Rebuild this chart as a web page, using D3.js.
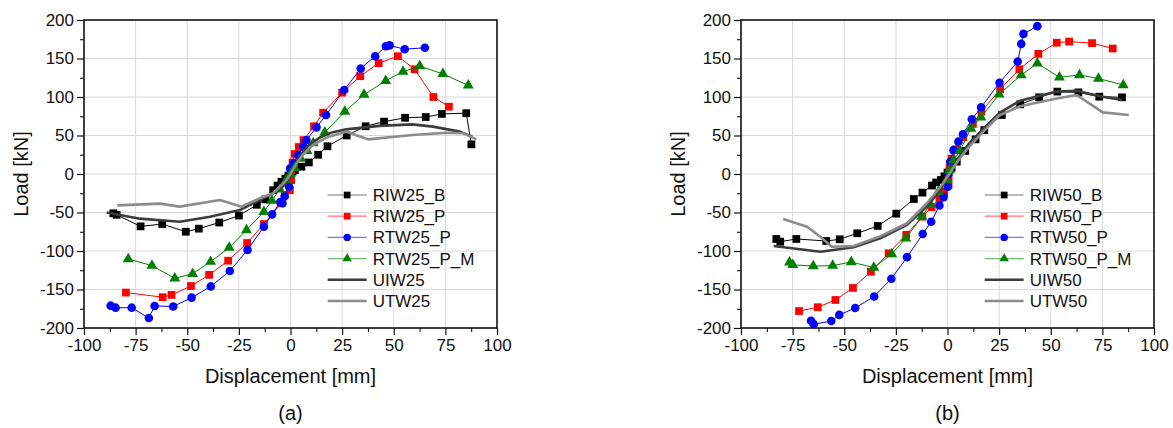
<!DOCTYPE html>
<html>
<head>
<meta charset="utf-8">
<script src="https://cdn.jsdelivr.net/npm/d3@7"></script>
<style>
  body { margin: 0; background: #fff; }
  text { font-family: "Liberation Sans", Arial, sans-serif; fill: #111; }
</style>
</head>
<body>
<div id="my_dataviz"></div>
<script>
// ---- data: [displacement mm, load kN] ----
// chart (a)
var RIW25_B = [[-85.8,-51],[-84.2,-53],[-72.6,-68],[-62.1,-65],[-50.7,-75],[-44.4,-71],[-34.5,-63],[-25,-54],[-16.3,-40],[-12.1,-33],[-8.4,-21],[-6.3,-15],[-4.4,-10],[-2.5,-6],[-1,-2],[1,3],[2.1,5],[5.3,9.5],[8.9,15],[13.4,25],[17.9,36],[27.2,50],[36.4,62],[45.3,68],[55.5,73],[65.5,74],[73.3,78],[85.1,79],[87.6,38.5]];
var RIW25_P = [[-79.7,-154],[-61.9,-160],[-57.6,-157],[-48.2,-145.5],[-39.4,-131],[-30.2,-112.6],[-21,-89.6],[-12.9,-65],[-4.4,-38],[-2.8,-27],[-0.3,-21],[0.3,-8],[0.5,5],[1,15],[2,26],[4,35],[6.3,44],[11.4,62],[15.8,79.6],[25,105.6],[33.7,127],[42.7,144],[52,153],[60.1,136],[69.2,100],[76.7,87.4]];
var RTW25_P = [[-87.1,-171],[-84.7,-173.6],[-76.9,-173.6],[-68.6,-187],[-65.8,-171.4],[-56.8,-172],[-47.9,-160.6],[-38.6,-146],[-29.4,-126],[-20.8,-98.7],[-12.9,-68.4],[-8.9,-52.4],[-5,-36.4],[-3.9,-38],[-2.8,-29],[-0.7,-16.5],[-0.2,7],[1.6,14],[3.7,24.7],[6.1,35.5],[7.7,44],[12.6,60.6],[17.2,76.6],[26,109],[34,137],[41,153],[46.2,166],[48,167],[55.3,162],[65.1,164]];
var RTW25_P_M = [[-78.6,-110.4],[-67.1,-119],[-56,-135.5],[-47.4,-129.5],[-38.7,-113.9],[-29.7,-95.7],[-21.3,-72.7],[-12.9,-49],[-9,-34.6],[-5.2,-20],[-2,-8],[0,0],[2,8],[5,20],[8,30],[11,40],[16.6,54],[26.3,81],[35.6,103],[46.1,121],[54.5,133],[62.6,140],[73.8,130],[86.1,115]];
var UIW25 = [[-89,-50],[-72.9,-58],[-53.6,-62],[-39,-55.4],[-24.5,-46.8],[-14.9,-33.8],[-6.8,-23],[-2,-12],[0,-3],[2,10],[4.5,24],[9,38],[14,47],[20,54],[27,58],[43,62.5],[59,64.5],[69,61.5],[82,55],[88,48.5]];
var UTW25 = [[-83.9,-40.7],[-63.2,-38.5],[-53.6,-42.4],[-34.2,-33.8],[-23.7,-42.4],[-14.9,-31.6],[-8.4,-25],[-2,-8],[0,0],[3,14],[6,25],[11,38],[18,48],[27,55],[37.5,45],[59,50.6],[75.5,53.6],[83.5,53],[90,45]];

// chart (b)
var RIW50_B = [[-82.9,-84.4],[-81,-87.9],[-73.2,-84.4],[-58.7,-87],[-52.2,-84.8],[-43.7,-77],[-33.8,-67.5],[-24.8,-51.5],[-16.3,-32.5],[-12.1,-24.2],[-7.5,-15],[-5.5,-11],[-3.2,-7.8],[-1.5,-3],[0,2],[2,8],[4.5,16],[8.6,30],[13.6,45],[17.8,57],[26.3,76.6],[35.2,90.5],[44.4,99.6],[53.2,107],[63.4,106],[73.5,100.4],[84.5,99.6]];
var RIW50_P = [[-71.9,-178],[-62.8,-173],[-54.3,-163.6],[-45.8,-148],[-37.1,-127],[-28.5,-103],[-20,-79],[-12.2,-55.4],[-7.7,-43],[-3.9,-31.6],[-1.6,-23],[0.5,-14],[0.5,-5],[1,8],[2,20],[4,32],[7.7,47.7],[12.3,65],[16.4,81],[25.5,110],[34.8,136],[44,156],[52.9,170.5],[58.9,172],[70,170],[80,163]];
var RTW50_P = [[-66.1,-190.5],[-64.8,-195],[-56.3,-191],[-52.4,-183],[-44.7,-174],[-35.5,-159],[-27.2,-136],[-19.6,-108],[-12,-78],[-7.9,-62],[-3.9,-41],[-1.9,-30],[0.2,-16.5],[0.5,0],[1.3,16],[2.9,31],[5.3,42],[7.5,51.5],[11.8,71],[16.3,86.6],[25.2,118.6],[34,146],[35.7,169],[36.8,182],[43.5,192]];
var RTW50_P_M = [[-76.5,-114.7],[-74.9,-118],[-65,-119.5],[-55.6,-119],[-46.6,-114.3],[-35.7,-121.6],[-27,-104],[-20.2,-83.5],[-12.4,-55.4],[-8.4,-39.4],[-4.4,-23],[-0.3,-8],[1,5],[3,18],[6,30],[11.3,59],[16.2,73.6],[25,103.5],[35.7,128.6],[43.5,143.7],[54.2,125.6],[63.9,128.6],[73.1,124],[85.1,115.6]];
var UIW50 = [[-84.2,-93.5],[-61.6,-100.9],[-45.5,-95.2],[-32.6,-83.5],[-19.6,-66],[-10,-42.4],[-3.5,-20.8],[1.3,1],[5,20],[10,38],[17,58],[25.5,80],[35.2,95],[52.9,107],[62.6,108],[73.9,101],[84.5,96]];
var UTW50 = [[-79.6,-58.4],[-68,-68.4],[-61.6,-81.4],[-56,-94.4],[-45.5,-93.5],[-32.6,-81],[-19.6,-64],[-10,-38],[-2.7,-14.3],[1.3,2],[5,17],[10,34],[17,54],[25,76],[35.2,88],[52.9,98],[62.6,102.6],[75.2,80],[87.8,76.6]];

var xTicks = [-100, -75, -50, -25, 0, 25, 50, 75, 100];
var yTicks = [-200, -150, -100, -50, 0, 50, 100, 150, 200];
var seriesNamesA = ["RIW25_B", "RIW25_P", "RTW25_P", "RTW25_P_M", "UIW25", "UTW25"];
var seriesNamesB = ["RIW50_B", "RIW50_P", "RTW50_P", "RTW50_P_M", "UIW50", "UTW50"];

// styles per series slot (same order in both charts)
var styles = [
    { color: "#000000", marker: "square", width: 1 },
    { color: "#ff0000", marker: "square", width: 1 },
    { color: "#0000ff", marker: "circle", width: 1 },
    { color: "#008000", marker: "triangle", width: 1 },
    { color: "#3c3c3c", marker: null, width: 2.6 },
    { color: "#8c8c8c", marker: null, width: 2.6 }
];

var svg = d3.select("#my_dataviz")
    .append("svg")
    .attr("width", 1173)
    .attr("height", 428);

function drawChart(left, right, data, names, caption) {
    var top = 20, bottom = 328;
    var x = d3.scaleLinear().domain([-100, 100]).range([left, right]);
    var y = d3.scaleLinear().domain([-200, 200]).range([bottom, top]);
    var g = svg.append("g");

    // grid
    g.append("g").selectAll("line")
        .data(xTicks.slice(1, -1))
        .enter().append("line")
        .attr("x1", d => x(d)).attr("x2", d => x(d))
        .attr("y1", top).attr("y2", bottom)
        .attr("stroke", "#dadada").attr("stroke-width", 1);
    g.append("g").selectAll("line")
        .data(yTicks.slice(1, -1))
        .enter().append("line")
        .attr("x1", left).attr("x2", right)
        .attr("y1", d => y(d)).attr("y2", d => y(d))
        .attr("stroke", "#dadada").attr("stroke-width", 1);

    // minor ticks
    var xMinor = d3.range(-87.5, 100, 25);
    var yMinor = d3.range(-175, 200, 50);
    g.append("g")
        .attr("transform", "translate(0," + bottom + ")")
        .call(d3.axisBottom(x).tickValues(xMinor).tickSize(4).tickFormat(""))
        .call(a => a.select(".domain").remove());
    g.append("g")
        .attr("transform", "translate(" + left + ",0)")
        .call(d3.axisLeft(y).tickValues(yMinor).tickSize(4).tickFormat(""))
        .call(a => a.select(".domain").remove());

    // major axes (plain hyphen minus like the original)
    var fmt = d => String(d);
    var xAxis = g.append("g")
        .attr("transform", "translate(0," + bottom + ")")
        .call(d3.axisBottom(x).tickValues(xTicks).tickSize(7).tickPadding(4).tickFormat(fmt));
    var yAxis = g.append("g")
        .attr("transform", "translate(" + left + ",0)")
        .call(d3.axisLeft(y).tickValues(yTicks).tickSize(7).tickPadding(3).tickFormat(fmt));
    [xAxis, yAxis].forEach(function (a) {
        a.selectAll("text").style("font-size", "17px").attr("fill", "#111")
            .style("font-family", "'Liberation Sans', Arial, sans-serif");
        a.selectAll("line").attr("stroke", "#111").attr("stroke-width", 1.2);
        a.select(".domain").remove();
    });

    // frame
    g.append("rect")
        .attr("x", left).attr("y", top)
        .attr("width", right - left).attr("height", bottom - top)
        .attr("fill", "none").attr("stroke", "#111").attr("stroke-width", 1.6);

    var line = d3.line().x(d => x(d[0])).y(d => y(d[1]));

    data.forEach(function (s, i) {
        var st = styles[i];
        g.append("path")
            .datum(s)
            .attr("d", line)
            .attr("fill", "none")
            .attr("stroke", st.color)
            .attr("stroke-width", st.width)
            .attr("stroke-linejoin", "round");
        if (st.marker) drawMarkers(g, s.map(d => [x(d[0]), y(d[1])]), st, 1);
    });

    // legend
    var lx = x(18), ly = 195;
    names.forEach(function (n, i) {
        var st = styles[i];
        var yy = ly + i * 21.2;
        g.append("line")
            .attr("x1", lx).attr("x2", lx + 39)
            .attr("y1", yy).attr("y2", yy)
            .attr("stroke", st.color)
            .attr("stroke-opacity", st.marker ? 0.55 : 1)
            .attr("stroke-width", st.marker ? 1.2 : st.width);
        if (st.marker) drawMarkers(g, [[lx + 19.5, yy]], st, 0.75);
        g.append("text")
            .attr("x", lx + 45).attr("y", yy)
            .attr("dy", "0.35em")
            .style("font-size", "17px")
            .text(n);
    });

    // axis titles
    g.append("text")
        .attr("transform", "translate(" + (left - 63) + "," + y(0) + ") rotate(-90)")
        .attr("text-anchor", "middle")
        .attr("dy", "0.35em")
        .style("font-size", "20px")
        .text("Load [kN]");
    g.append("text")
        .attr("x", x(0)).attr("y", 383)
        .attr("text-anchor", "middle")
        .style("font-size", "20px")
        .text("Displacement [mm]");
    g.append("text")
        .attr("x", x(0)).attr("y", 420)
        .attr("text-anchor", "middle")
        .style("font-size", "20px")
        .text(caption);
}

function drawMarkers(g, pts, st, k) {
    var sym = st.marker == "square" ? d3.symbolSquare
        : st.marker == "circle" ? d3.symbolCircle : d3.symbolTriangle;
    var size = (st.marker == "square" ? 60 : st.marker == "circle" ? 58 : 52) * k;
    g.append("g").selectAll("path")
        .data(pts)
        .enter().append("path")
        .attr("transform", d => "translate(" + d[0] + "," + d[1] + ")")
        .attr("d", d3.symbol().type(sym).size(size))
        .attr("fill", st.color);
}

drawChart(84, 497, [RIW25_B, RIW25_P, RTW25_P, RTW25_P_M, UIW25, UTW25], seriesNamesA, "(a)");
drawChart(741, 1154, [RIW50_B, RIW50_P, RTW50_P, RTW50_P_M, UIW50, UTW50], seriesNamesB, "(b)");
</script>
</body>
</html>
